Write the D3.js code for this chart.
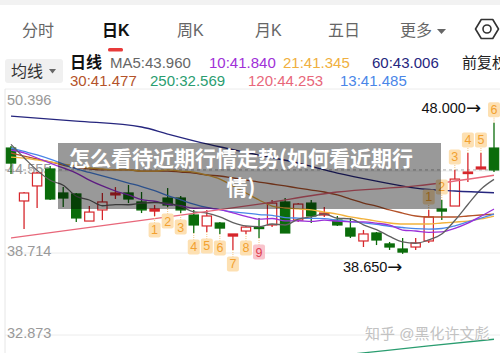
<!DOCTYPE html>
<html><head><meta charset="utf-8">
<script src="https://cdn.jsdelivr.net/npm/d3@7"></script>
<style>
html,body{margin:0;padding:0;background:#fff;overflow:hidden}
svg{display:block;font-family:"Liberation Sans","Noto Sans CJK SC",sans-serif}
</style></head><body>
<svg id="c" width="500" height="353"></svg>
<script>
// ---------- data ----------
const tabs = ["分时","日K","周K","月K","五日","更多"];
const activeTab = "日K";
const yTicks = [50.396, 44.555, 38.714, 32.873];
const candleOpen  = [46.19,42.42,43.49,44.70,42.99,42.92,40.99,41.78,42.85,42.99,42.35,41.70,42.63,42.63,41.42,40.64,40.85,39.92,40.28,40.56,40.71,42.35,41.06,42.27,41.42,41.06,40.49,39.57,40.14,39.36,39.00,39.14,39.57,41.85,42.06,44.41,44.70,46.19];
const candleHigh  = [46.34,43.06,44.48,44.91,43.41,42.99,42.06,42.99,43.41,43.56,43.06,42.13,43.34,42.77,41.78,41.78,40.92,40.07,40.64,41.21,42.49,42.63,42.27,42.49,41.99,41.35,41.21,40.35,40.21,39.50,39.78,39.78,41.78,42.49,44.63,45.84,45.84,48.00];
const candleLow   = [44.34,40.42,41.92,42.49,41.99,40.92,40.99,41.06,42.56,42.27,41.56,41.35,41.99,41.56,40.14,40.21,40.07,38.93,40.07,39.78,40.56,40.14,40.92,40.85,41.28,40.64,39.78,39.14,39.28,38.93,38.65,38.93,39.43,41.06,42.06,43.77,44.70,44.48];
const candleClose = [45.12,42.99,44.41,42.56,42.63,41.21,41.63,42.35,42.99,42.56,41.78,41.85,42.13,41.78,40.71,41.35,40.49,40.07,40.56,40.49,42.27,40.14,42.20,41.35,41.56,40.71,39.92,40.07,39.64,39.14,38.78,39.43,41.28,41.70,43.98,44.48,44.84,44.63];

const ma5  = [46.45,45.50,44.60,43.90,43.54,42.76,42.49,42.08,42.16,42.15,42.26,42.31,42.26,42.02,41.65,41.56,41.29,40.88,40.64,40.59,40.78,40.71,41.13,41.29,41.50,41.19,41.15,40.72,40.38,39.90,39.51,39.41,39.65,40.07,41.03,42.17,43.26,43.96];
const ma10 = [46.05,45.84,45.48,45.12,44.77,44.41,43.91,43.49,43.13,42.85,42.51,42.40,42.17,42.09,41.90,41.91,41.80,41.57,41.33,41.12,41.17,41.00,41.01,40.96,41.05,40.98,40.93,40.93,40.84,40.70,40.35,40.28,40.19,40.22,40.47,40.84,41.33,41.84];
const ma13 = [46.19,45.95,45.70,45.40,45.05,44.70,44.45,44.20,43.95,43.70,43.45,43.15,42.80,42.50,42.20,41.96,41.80,41.65,41.56,41.45,41.40,41.24,41.20,41.18,41.16,41.05,40.95,40.86,40.75,40.62,40.53,40.45,40.42,40.46,40.65,40.93,41.20,41.485];
const ma21 = [45.55,45.48,45.34,45.20,45.05,44.91,44.77,44.70,44.63,44.63,44.55,44.55,44.63,44.55,44.48,44.27,43.98,43.49,42.99,42.49,42.06,41.92,41.85,41.78,41.63,41.49,41.28,41.14,40.99,40.85,40.78,40.78,40.78,40.85,40.92,40.99,41.14,41.345];
const ma30 = [45.84,45.62,45.41,45.20,44.98,44.77,44.70,44.63,44.63,44.63,44.55,44.55,44.55,44.48,44.41,44.27,44.20,44.06,43.91,43.77,43.63,43.49,43.34,43.20,43.06,42.85,42.56,42.27,42.06,41.78,41.56,41.35,41.28,41.28,41.28,41.35,41.42,41.477];
// long averages: [candle index, value] points
const ma60  = [[0,48.47],[5,48.11],[10,47.69],[12,47.19],[15,46.48],[19,45.69],[22,45.12],[25,44.41],[28,43.84],[31,43.34],[34,43.13],[37,43.006]];
const ma120 = [[0,39.78],[12,41.28],[19,42.20],[25,43.06],[31,43.49],[37,44.253]];
const ma250 = [[20,30.90],[27,31.60],[32,32.10],[37,32.569]];

const maLegend1 = ["MA5:43.960","10:41.840","21:41.345","60:43.006"];
const maLegend2 = ["30:41.477","250:32.569","120:44.253","13:41.485"];
const tdBelow = [[11,"1"],[12,"2"],[13,"3"],[14,"4"],[15,"5"],[16,"6"],[17,"7"],[18,"8"],[19,"9"]];
const tdAbove = [[32,"1"],[33,"2"],[34,"3"],[35,"4"],[36,"5"],[37,"6"]];
const maxLabel = "48.000", minLabel = "38.650", arrow = "→";
const title = ["怎么看待近期行情走势(如何看近期行","情)"];
const watermark = "知乎 @黑化许文彪";

// ---------- drawing ----------
const svg = d3.select("#c");
const y = d3.scaleLinear().domain([32.873, 50.396]).range([335, 89]);
const x = d3.scaleLinear().domain([0, 37]).range([11, 494]);
const cw = 10.5;
const RED = "#d6262b", GREEN = "#0b6c0b";

// header
svg.append("rect").attr("x",0).attr("y",0).attr("width",500).attr("height",5).attr("fill","#f2f2f2");
const tabX = [22,102,177,255,328,400];
svg.selectAll("text.tab").data(tabs).join("text").attr("class","tab")
  .attr("x",(d,i)=>tabX[i]).attr("y",36).attr("font-size",16)
  .attr("font-weight",d=>d===activeTab?"bold":"normal")
  .attr("fill",d=>d===activeTab?"#111":"#666").text(d=>d);
svg.append("path").attr("d","M437,29 L446,29 L441.5,34 Z").attr("fill","#666");
svg.append("rect").attr("x",108).attr("y",48).attr("width",15).attr("height",3.5).attr("rx",1.5).attr("fill","#e83a3a");
// settings hexagon
const hx=487, hy=29;
svg.append("path").attr("d", d3.range(6).map((k,i)=>{const a=Math.PI/3*k; return (i?"L":"M")+(hx+11.5*Math.cos(a))+","+(hy+11*Math.sin(a));}).join("")+"Z")
  .attr("fill","none").attr("stroke","#333").attr("stroke-width",1.6).attr("stroke-linejoin","round");
svg.append("circle").attr("cx",hx).attr("cy",hy).attr("r",4).attr("fill","none").attr("stroke","#333").attr("stroke-width",1.6);

// legend
svg.append("rect").attr("x",5).attr("y",59).attr("width",58).attr("height",24).attr("rx",3).attr("fill","#f0f0f0");
svg.append("text").attr("x",11).attr("y",77).attr("font-size",16).attr("fill","#333").text("均线");
svg.append("path").attr("d","M49,69 L56,69 L52.5,73.5 Z").attr("fill","#666");
svg.append("text").attr("x",70).attr("y",68).attr("font-size",16).attr("font-weight","bold").attr("fill","#111").text("日线");
const lg1x=[110,209,283,372], lg1c=["#666","#a030d8","#f0b040","#26267e"];
svg.selectAll("text.lg1").data(maLegend1).join("text").attr("class","lg1")
  .attr("x",(d,i)=>lg1x[i]).attr("y",68).attr("font-size",15).attr("fill",(d,i)=>lg1c[i]).text(d=>d);
svg.append("text").attr("x",462).attr("y",68).attr("font-size",15).attr("fill","#222").text("前复权");
const lg2x=[70,150,248,340], lg2c=["#b4532a","#2a9d70","#e8677a","#4a86e8"];
svg.selectAll("text.lg2").data(maLegend2).join("text").attr("class","lg2")
  .attr("x",(d,i)=>lg2x[i]).attr("y",86).attr("font-size",15).attr("fill",(d,i)=>lg2c[i]).text(d=>d);

// grid + axis
svg.selectAll("line.grid").data(yTicks).join("line").attr("class","grid")
  .attr("x1",5).attr("x2",500).attr("y1",d=>y(d)).attr("y2",d=>y(d))
  .attr("stroke","#ececec").attr("stroke-width",1);
svg.append("line").attr("x1",5).attr("x2",5).attr("y1",89).attr("y2",353).attr("stroke","#e6e6e6");
svg.selectAll("text.yt").data(yTicks).join("text").attr("class","yt")
  .attr("x",7).attr("y",(d,i)=>i===0?y(d)+16:y(d)+3).attr("font-size",14.5).attr("fill","#999")
  .text(d=>d.toFixed(3));
const lastClose = candleClose[candleClose.length-1];
svg.append("line").attr("x1",5).attr("x2",x(37)).attr("y1",y(lastClose)).attr("y2",y(lastClose))
  .attr("stroke","#aaa").attr("stroke-dasharray","3,3");

// candles
const idx = d3.range(candleOpen.length);
const g = svg.append("g");
idx.forEach(i=>{
  const o=candleOpen[i], c=candleClose[i], h=candleHigh[i], l=candleLow[i];
  const up = c>=o, col = up?RED:GREEN;
  g.append("line").attr("x1",x(i)).attr("x2",x(i)).attr("y1",y(h)).attr("y2",y(l)).attr("stroke",col).attr("stroke-width",1.3);
  const top=y(Math.max(o,c)), bot=y(Math.min(o,c));
  const hh=Math.max(bot-top,1.5);
  g.append("rect").attr("x",x(i)-cw/2+0.6).attr("y",top).attr("width",cw-1.2).attr("height",hh)
    .attr("fill", up ? (hh<3?RED:"#fff") : GREEN).attr("stroke",col).attr("stroke-width",1.2);
});

// moving averages
const lineIdx = d3.line().x((d,i)=>x(i)).y(d=>y(d)).curve(d3.curveMonotoneX);
const linePts = d3.line().x(d=>x(d[0])).y(d=>y(d[1])).curve(d3.curveMonotoneX);
[[ma30,"#b4532a"],[ma21,"#f2b23c"],[ma13,"#4a86e8"],[ma10,"#9b30d8"],[ma5,"#606060"]].forEach(([arr,col])=>{
  svg.append("path").attr("d",lineIdx(arr)).attr("fill","none").attr("stroke",col).attr("stroke-width",1.3);
});
[[ma60,"#26267e"],[ma120,"#e8677a"],[ma250,"#2a9d70"]].forEach(([arr,col])=>{
  svg.append("path").attr("d",linePts(arr)).attr("fill","none").attr("stroke",col).attr("stroke-width",1.3);
});

// TD sequence markers
function td(list, below){
  list.forEach(([i,n])=>{
    const ay = below ? y(candleLow[i]) : y(candleHigh[i]);
    const cy = below ? ay+14 : ay-13;
    const pink = n==="9";
    svg.append("line").attr("x1",x(i)).attr("x2",x(i)).attr("y1",ay).attr("y2",below?cy-7:cy+7)
      .attr("stroke","#f3c27a").attr("stroke-dasharray","1,1");
    svg.append("rect").attr("x",x(i)-6).attr("y",cy-7.5).attr("width",12).attr("height",15).attr("rx",2)
      .attr("fill",pink?"#f9c4cc":"#fde0b2");
    svg.append("text").attr("x",x(i)).attr("y",cy+4.5).attr("text-anchor","middle").attr("font-size",12.5)
      .attr("fill",pink?"#e0404f":"#f2a030").text(n);
  });
}
td(tdBelow,true); td(tdAbove,false);

// extreme labels
function extLabel(xx, yy, anchor, txt){
  const t = svg.append("text").attr("x",xx).attr("y",yy).attr("text-anchor",anchor).attr("font-size",14.5).attr("fill","#111");
  t.append("tspan").text(txt);
  t.append("tspan").attr("font-family","'DejaVu Sans'").attr("font-size",18).attr("dy",1).text(arrow);
}
extLabel(481, y(48)-10, "end", maxLabel);
extLabel(343, y(38.65)+18, "start", minLabel);

// watermark
svg.append("text").attr("x",365).attr("y",339).attr("font-size",15).attr("fill","#c2c2c2").text(watermark);

// overlay title
svg.append("rect").attr("x",58).attr("y",143).attr("width",383).attr("height",66).attr("fill","rgba(0,0,0,0.4)");
svg.selectAll("text.tt").data(title).join("text").attr("class","tt")
  .attr("x",241).attr("y",(d,i)=>166+i*29).attr("text-anchor","middle")
  .attr("font-family","'Noto Sans CJK SC',sans-serif").attr("font-weight","bold").attr("font-size",21)
  .attr("fill","#fff").text(d=>d);
</script>
</body></html>
